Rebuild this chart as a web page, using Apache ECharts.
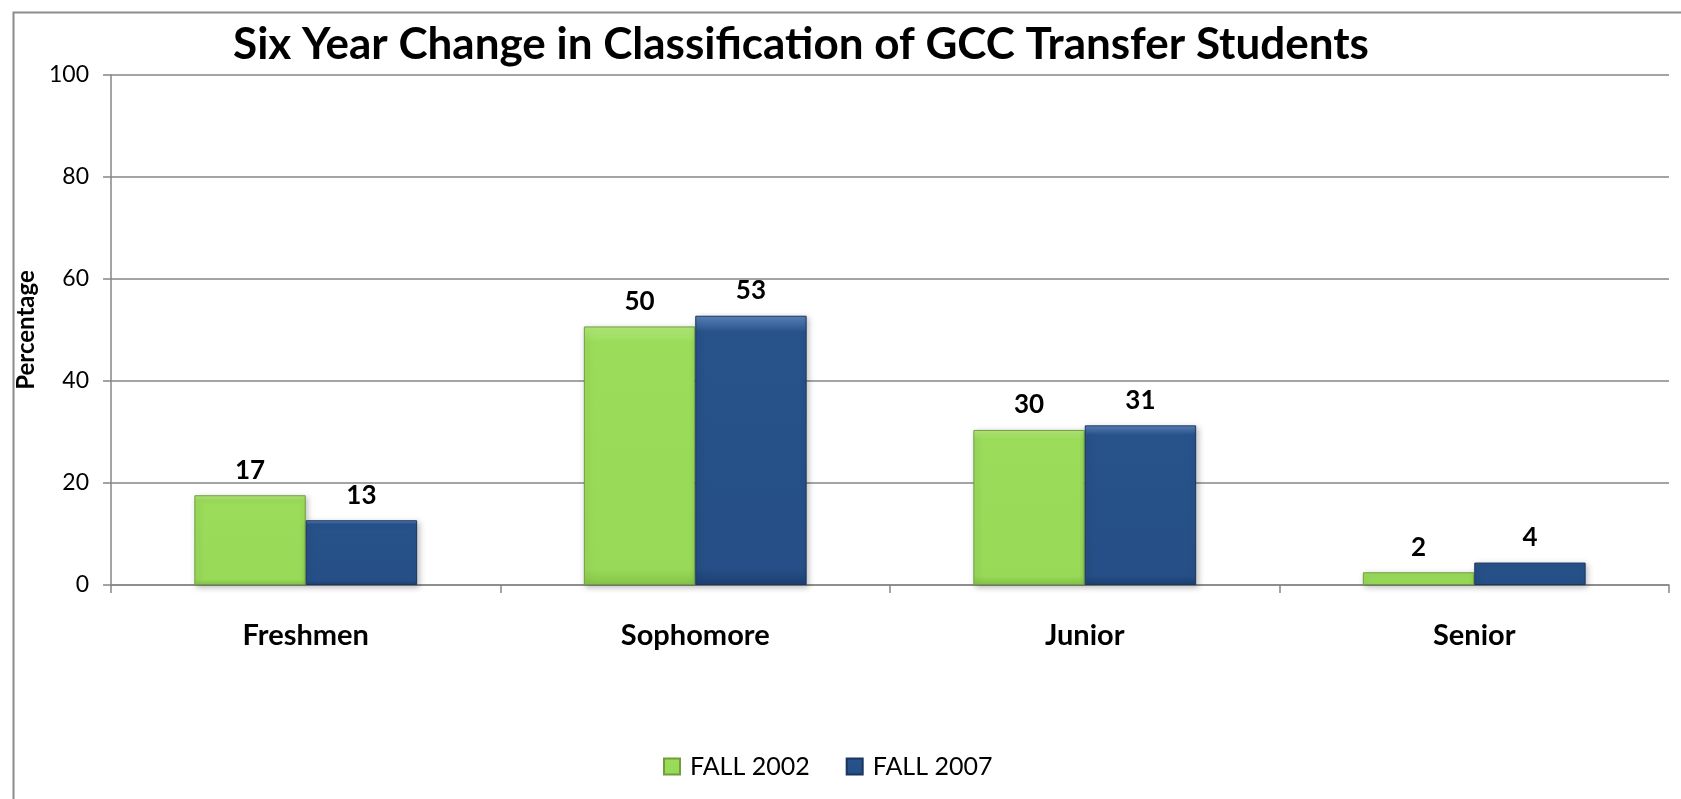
<!DOCTYPE html>
<html>
<head>
<meta charset="utf-8">
<script src="https://cdn.jsdelivr.net/npm/echarts@6/dist/echarts.min.js"></script>
<style>
html,body{margin:0;padding:0;background:#fff;}
#chart{width:1681px;height:799px;}
</style>
</head>
<body>
<div id="chart"></div>
<script>
const categories = ['Freshmen', 'Sophomore', 'Junior', 'Senior'];
const fall2002 = [17.6, 50.7, 30.4, 2.5];
const fall2007 = [12.7, 52.8, 31.3, 4.4];
const fall2002Labels = ['17', '50', '30', '2'];
const fall2007Labels = ['13', '53', '31', '4'];
const yTicks = [0, 20, 40, 60, 80, 100];

const FONT = 'Lato';
const chart = echarts.init(document.getElementById('chart'), null, {renderer: 'canvas'});

function labelCfg(arr) {
  return {
    show: true, position: 'top', distance: 12,
    fontFamily: FONT, fontWeight: 'bold', fontSize: 26, color: '#000',
    formatter: p => arr[p.dataIndex]
  };
}

chart.setOption({
  animation: false,
  backgroundColor: '#fff',
  title: {
    text: 'Six Year Change in Classification of GCC Transfer Students',
    left: 796, top: 18, textAlign: 'center',
    textStyle: {fontFamily: FONT, fontWeight: 'bold', fontSize: 44, color: '#000'}
  },
  graphic: [{
    type: 'rect', left: 11, top: 10, silent: true,
    shape: {width: 1800, height: 900},
    style: {fill: null, stroke: '#8c8c8c', lineWidth: 2}
  }],
  legend: {
    data: ['FALL 2002', 'FALL 2007'],
    left: 658, top: 749,
    icon: 'rect',
    itemWidth: 16, itemHeight: 16, itemGap: 36,
    textStyle: {fontFamily: FONT, fontSize: 25, color: '#000', padding: [0, 0, 0, 5]}
  },
  grid: {left: 111, right: 12, top: 75, bottom: 214, containLabel: false},
  xAxis: {
    type: 'category', data: categories,
    axisLine: {lineStyle: {color: '#868686', width: 1.5}},
    axisTick: {show: true, length: 8, alignWithLabel: false, lineStyle: {color: '#868686', width: 1.5}},
    axisLabel: {fontFamily: FONT, fontWeight: 'bold', fontSize: 29, color: '#000', margin: 36}
  },
  yAxis: {
    type: 'value', min: 0, max: 100, interval: 20,
    name: 'Percentage', nameLocation: 'middle', nameGap: 65, nameRotate: 90,
    nameTextStyle: {fontFamily: FONT, fontWeight: 'bold', fontSize: 24, color: '#000'},
    axisLine: {show: true, lineStyle: {color: '#868686', width: 1.5}},
    axisTick: {show: true, length: 8, lineStyle: {color: '#868686', width: 1.5}},
    axisLabel: {fontFamily: FONT, fontSize: 23, color: '#000', margin: 22,
      formatter: v => yTicks.includes(v) ? String(v) : ''},
    splitLine: {show: true, lineStyle: {color: '#868686', width: 1.5}}
  },
  series: [{
    name: 'FALL 2002', type: 'bar', data: fall2002,
    barWidth: '28.6%', barGap: '0%',
    itemStyle: {
      color: new echarts.graphic.LinearGradient(0, 0, 0, 1, [
        {offset: 0, color: '#b4ea7c'}, {offset: 0.06, color: '#9bdc5a'},
        {offset: 0.94, color: '#98d958'}, {offset: 1, color: '#86c548'}]),
      borderColor: '#6f9f3d', borderWidth: 1,
      shadowColor: 'rgba(0,0,0,0.25)', shadowBlur: 6, shadowOffsetX: 2, shadowOffsetY: 2
    },
    label: labelCfg(fall2002Labels)
  }, {
    name: 'FALL 2007', type: 'bar', data: fall2007,
    barWidth: '28.6%',
    itemStyle: {
      color: new echarts.graphic.LinearGradient(0, 0, 0, 1, [
        {offset: 0, color: '#5b84bb'}, {offset: 0.06, color: '#27528a'},
        {offset: 0.94, color: '#254f86'}, {offset: 1, color: '#1d4073'}]),
      borderColor: '#1a355e', borderWidth: 1,
      shadowColor: 'rgba(0,0,0,0.25)', shadowBlur: 6, shadowOffsetX: 2, shadowOffsetY: 2
    },
    label: labelCfg(fall2007Labels)
  }]
});
</script>
</body>
</html>
